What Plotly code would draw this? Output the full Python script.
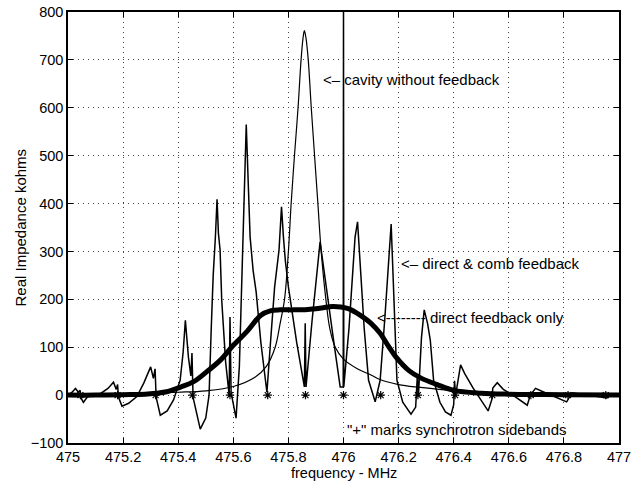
import plotly.graph_objects as go

# ---------------- data ----------------
x_tick_vals = [475.0, 475.2, 475.4, 475.6, 475.8, 476.0, 476.2, 476.4, 476.6, 476.8, 477.0]
x_tick_text = ["475", "475.2", "475.4", "475.6", "475.8", "476", "476.2", "476.4", "476.6", "476.8", "477"]
y_tick_vals = [-100, 0, 100, 200, 300, 400, 500, 600, 700, 800]

# cavity without feedback (thin resonance curve)
cavity_freq = [475.00, 475.10, 475.20, 475.30, 475.40, 475.50, 475.60, 475.68, 475.72, 475.752,
               475.770, 475.786, 475.800, 475.810, 475.822, 475.835, 475.846, 475.853, 475.858,
               475.864, 475.872, 475.883, 475.895, 475.907, 475.919, 475.936, 475.950, 475.970,
               476.000, 476.050, 476.100, 476.130, 476.200, 476.280, 476.400, 476.500, 476.600,
               476.800, 477.000]
cavity_kohm = [2, 2, 3, 4, 6, 9, 18, 38, 60, 100,
               150, 200, 300, 400, 500, 600, 700, 745, 761,
               745, 700, 600, 500, 400, 300, 200, 140, 100,
               75, 55, 42, 33, 22, 16, 9, 6, 4,
               2, 1]

# direct feedback only (thick curve)
direct_freq = [475.00, 475.10, 475.20, 475.28, 475.32, 475.358, 475.41, 475.456, 475.504, 475.553,
               475.60, 475.65, 475.70, 475.734, 475.77, 475.82, 475.87, 475.92, 475.96, 475.99,
               476.02, 476.06, 476.10, 476.133, 476.16, 476.19, 476.24, 476.28, 476.34, 476.40,
               476.50, 476.60, 476.80, 477.00]
direct_kohm = [0, 0, 1, 2, 4, 7, 17, 28, 49, 73,
               104, 133, 167, 176, 178, 178, 179, 182, 185, 184,
               180, 167, 150, 129, 105, 80, 50, 36, 22, 10,
               4, 2, 1, 0]

# direct & comb feedback (oscillating curve)
comb_freq = [475.000, 475.015, 475.027, 475.038, 475.044, 475.047, 475.056, 475.070, 475.090, 475.120,
             475.145, 475.165, 475.175, 475.180, 475.183, 475.196, 475.220, 475.250, 475.275, 475.300,
             475.310, 475.316, 475.320, 475.335, 475.360, 475.383, 475.407, 475.418, 475.426, 475.437,
             475.446, 475.450, 475.454, 475.480, 475.500, 475.512, 475.520, 475.527, 475.535, 475.541,
             475.546, 475.552, 475.558, 475.572, 475.585, 475.588, 475.592, 475.610, 475.622, 475.629,
             475.640, 475.647, 475.655, 475.661, 475.672, 475.683, 475.700, 475.722, 475.735, 475.750,
             475.766, 475.775, 475.782, 475.789, 475.800, 475.830, 475.858, 475.861, 475.864, 475.885,
             475.915, 475.940, 475.965, 475.988, 475.999, 476.000, 476.001, 476.020, 476.042, 476.051,
             476.060, 476.075, 476.091, 476.115, 476.133, 476.150, 476.173, 476.183, 476.194, 476.215,
             476.245, 476.262, 476.268, 476.272, 476.283, 476.293, 476.305, 476.315, 476.327, 476.350,
             476.370, 476.390, 476.400, 476.403, 476.407, 476.425, 476.440, 476.470, 476.500, 476.525,
             476.538, 476.542, 476.558, 476.580, 476.620, 476.667, 476.678, 476.697, 476.720, 476.760,
             476.810, 476.830, 476.870, 476.920, 476.956, 476.970, 477.000]
comb_kohm = [0, 6, 14, 6, 10, -6, -15, -4, 0, 4,
             14, 27, 12, 22, -4, -23, -17, -3, 25, 59,
             35, 55, -5, -42, -33, -10, 31, 90, 156, 80,
             40, 88, -5, -71, -48, 0, 140, 250, 330, 409,
             338, 303, 198, 70, 0, 163, 5, -48, 60, 198,
             407, 565, 430, 330, 260, 215, 110, 6, 110, 226,
             303, 393, 330, 280, 226, 110, 17, 150, 17, 150,
             320, 210, 110, 17, 17, 830, 17, 140, 330, 362,
             270, 140, 31, -14, 31, 160, 357, 200, 31, -15,
             -40, -25, 40, 0, 120, 178, 150, 115, 31, -15,
             -35, -42, -20, 30, 0, 63, 45, 15, -10, -33,
             -10, 15, 26, 12, -2, -21, 0, 14, 8, -2,
             -14, 5, 2, -2, -6, 0, 0]

# synchrotron sidebands
sideband_freq = [475.045, 475.180, 475.318, 475.452, 475.588, 475.725, 475.862, 476.000,
                 476.135, 476.270, 476.405, 476.540, 476.680, 476.815, 476.952]
sideband_kohm = [0, 0, 0, 0, 0, 0, 0, 0, 0, 0, 0, 0, 0, 0, 0]

FONT = "Liberation Sans, Arial, Helvetica, sans-serif"

fig = go.Figure()
fig.add_trace(go.Scatter(x=comb_freq, y=comb_kohm, mode="lines",
                         line=dict(color="black", width=1.5), hoverinfo="skip"))
fig.add_trace(go.Scatter(x=cavity_freq, y=cavity_kohm, mode="lines", line_shape="spline",
                         line=dict(color="black", width=1.2), hoverinfo="skip"))
fig.add_trace(go.Scatter(x=direct_freq, y=direct_kohm, mode="lines", line_shape="spline",
                         line=dict(color="black", width=5), hoverinfo="skip"))
fig.add_trace(go.Scatter(x=sideband_freq, y=sideband_kohm, mode="markers",
                         marker=dict(symbol="asterisk-open", size=7, color="black",
                                     line=dict(color="black", width=1.2)),
                         hoverinfo="skip"))

axis_common = dict(showline=True, linecolor="black", linewidth=1.5, mirror="ticks",
                   ticks="inside", ticklen=5, tickcolor="black", tickwidth=1,
                   showgrid=True, gridcolor="#444", gridwidth=1, griddash="1px,4px",
                   zeroline=False, automargin=False,
                   tickfont=dict(family=FONT, size=14.5, color="black"))

fig.update_xaxes(range=[475, 477], tickvals=x_tick_vals, ticktext=x_tick_text, **axis_common)
fig.update_yaxes(range=[-100, 800], tickvals=y_tick_vals, **axis_common)

ann_font = dict(family=FONT, size=15, color="black")
fig.update_layout(
    width=642, height=481,
    margin=dict(l=68, r=23, t=12, b=38),
    paper_bgcolor="white", plot_bgcolor="white",
    showlegend=False,
    font=dict(family=FONT, size=14, color="black"),
    annotations=[
        dict(x=475.919, y=660, xref="x", yref="y", text="<\u2013 cavity without feedback",
             showarrow=False, xanchor="left", yanchor="middle", font=ann_font),
        dict(x=476.202, y=274, xref="x", yref="y", text="<\u2013 direct &amp; comb feedback",
             showarrow=False, xanchor="left", yanchor="middle", font=ann_font),
        dict(x=476.115, y=163, xref="x", yref="y", text="<-------- direct feedback only",
             showarrow=False, xanchor="left", yanchor="middle", font=ann_font),
        dict(x=476.006, y=-71, xref="x", yref="y", text="\"+\" marks synchrotron sidebands",
             showarrow=False, xanchor="left", yanchor="middle", font=ann_font),
        dict(x=0.5, y=0, xref="paper", yref="paper", yshift=-30, text="frequency - MHz",
             showarrow=False, xanchor="center", yanchor="middle", borderpad=0,
             font=dict(family=FONT, size=14.5, color="black")),
        dict(x=0, y=0.5, xref="paper", yref="paper", xshift=-48, text="Real Impedance kohms",
             textangle=-90, showarrow=False, xanchor="center", yanchor="middle", font=ann_font),
    ],
)

fig.write_html("out.html")
